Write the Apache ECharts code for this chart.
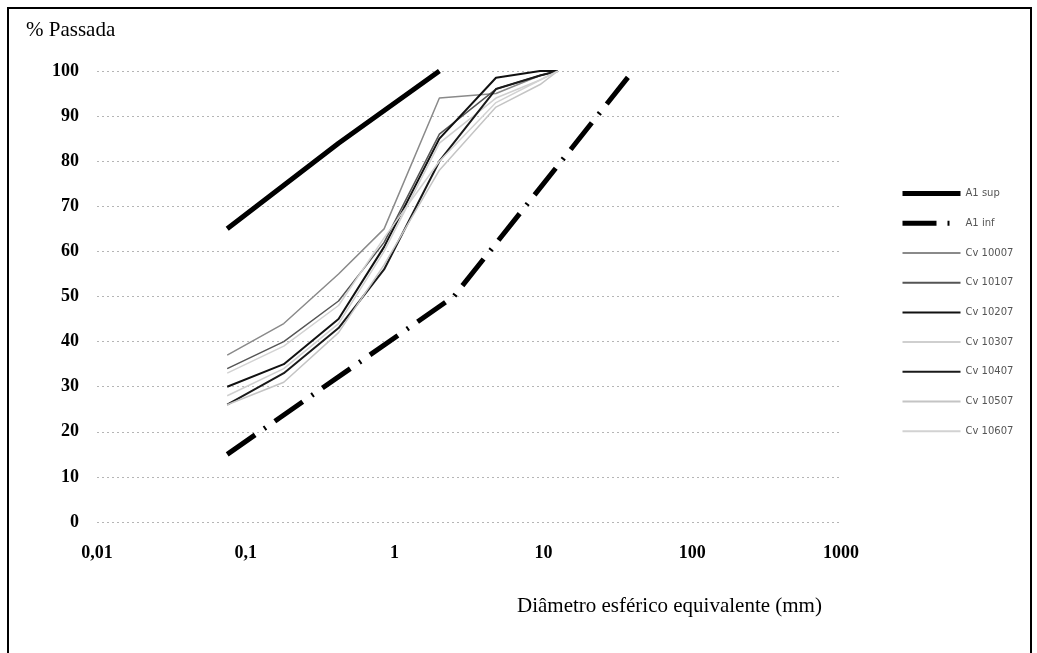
<!DOCTYPE html>
<html>
<head>
<meta charset="utf-8">
<script src="https://cdn.jsdelivr.net/npm/echarts@6/dist/echarts.min.js"></script>
<style>
  html, body { margin: 0; padding: 0; background: #fff; }
  #chart { width: 1037px; height: 653px; }
</style>
</head>
<body>
<div id="chart"></div>
<script>
// peneiras (mm)
const sieves = [0.075, 0.18, 0.42, 0.85, 2.0, 4.8, 9.5, 12.5];

// faixa A1
const supX = [0.075, 0.42, 2.0];
const supY = [65, 84, 100];
const infX = [0.075, 2.5, 40];
const infY = [15, 50, 100];

// curvas granulometricas
const cv10007 = [37, 44, 55, 65, 94, 95, 99, 100];
const cv10107 = [34, 40, 49, 62, 86, 96, 99, 100];
const cv10207 = [30, 35, 45, 61, 85, 98.5, 100, 100];
const cv10307 = [28, 34, 44, 60, 84, 94, 98, 100];
const cv10407 = [26, 33, 43, 56, 80, 96, 99, 100];
const cv10507 = [26, 31, 42, 57, 78, 92, 97, 100];
const cv10607 = [33, 39, 48, 63, 80, 93, 98, 100];

const xTickLabels = { 0.01: '0,01', 0.1: '0,1', 1: '1', 10: '10', 100: '100', 1000: '1000' };

const pairs = (xs, ys) => xs.map((x, i) => [x, ys[i]]);

const cvSeries = [
  ['Cv 10007', cv10007, '#8a8a8a', 1.5],
  ['Cv 10107', cv10107, '#555555', 1.5],
  ['Cv 10207', cv10207, '#111111', 2],
  ['Cv 10307', cv10307, '#cfcfcf', 1.5],
  ['Cv 10407', cv10407, '#1a1a1a', 2],
  ['Cv 10507', cv10507, '#c4c4c4', 1.5],
  ['Cv 10607', cv10607, '#d2d2d2', 1.5]
].map(([name, vals, color, width]) => ({
  name: name,
  type: 'line',
  symbol: 'none',
  data: pairs(sieves, vals),
  lineStyle: { color: color, width: width },
  itemStyle: { color: color },
  z: 2
}));

const chart = echarts.init(document.getElementById('chart'));

chart.setOption({
  animation: false,
  backgroundColor: '#fff',
  grid: { left: 97, right: 196, top: 71, bottom: 131 },
  legend: {
    orient: 'vertical',
    left: 895,
    top: 183,
    itemWidth: 58,
    itemHeight: 14,
    itemGap: 18.5,
    itemStyle: { opacity: 0 },
    textStyle: { fontFamily: 'DejaVu Sans', fontSize: 10, color: '#555' },
    data: [
      { name: 'A1 sup', lineStyle: { width: 5 } },
      { name: 'A1 inf', lineStyle: { width: 5, type: [34, 11, 2, 11] } },
      'Cv 10007', 'Cv 10107', 'Cv 10207', 'Cv 10307', 'Cv 10407', 'Cv 10507', 'Cv 10607'
    ]
  },
  xAxis: {
    type: 'log',
    logBase: 10,
    min: 0.01,
    max: 1000,
    axisLine: { show: false },
    axisTick: { show: false },
    splitLine: { show: false },
    axisLabel: {
      margin: 22,
      fontFamily: 'Liberation Serif',
      fontWeight: 'bold',
      fontSize: 18,
      color: '#000',
      formatter: v => xTickLabels[v] || ''
    }
  },
  yAxis: {
    type: 'value',
    min: 0,
    max: 100,
    interval: 10,
    axisLine: { show: false },
    axisTick: { show: false },
    axisLabel: {
      margin: 18,
      fontFamily: 'Liberation Serif',
      fontWeight: 'bold',
      fontSize: 18,
      color: '#000'
    },
    splitLine: { lineStyle: { color: '#b5b5b5', width: 1, type: [2, 3] } }
  },
  graphic: [
    {
      type: 'polyline',
      shape: { points: [[8, 660], [8, 8], [1031, 8], [1031, 660]] },
      style: { stroke: '#000', lineWidth: 2, fill: null }
    },
    {
      type: 'text',
      left: 26,
      top: 20,
      style: { text: '% Passada', fontFamily: 'Liberation Serif', fontSize: 21, fill: '#000' }
    },
    {
      type: 'text',
      left: 517,
      top: 596,
      style: { text: 'Diâmetro esférico equivalente (mm)', fontFamily: 'Liberation Serif', fontSize: 21, fill: '#000' }
    }
  ],
  series: [
    {
      name: 'A1 sup',
      type: 'line',
      symbol: 'none',
      data: pairs(supX, supY),
      lineStyle: { color: '#000', width: 5 },
      itemStyle: { color: '#000' },
      z: 3
    },
    {
      name: 'A1 inf',
      type: 'line',
      symbol: 'none',
      data: pairs(infX, infY),
      lineStyle: { color: '#000', width: 5, type: [34, 11, 2, 11] },
      itemStyle: { color: '#000' },
      z: 3
    }
  ].concat(cvSeries)
});
</script>
</body>
</html>
